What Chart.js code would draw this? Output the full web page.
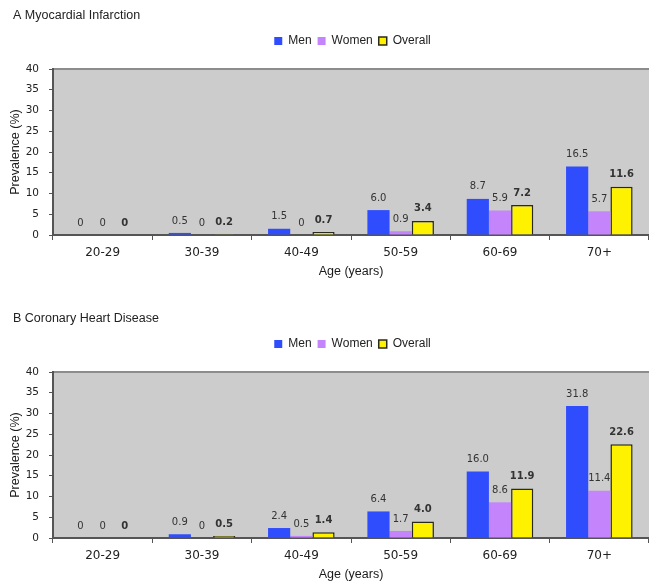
<!DOCTYPE html>
<html>
<head>
<meta charset="utf-8">
<script src="https://cdn.jsdelivr.net/npm/chart.js@4"></script>
<style>
  html, body { margin: 0; padding: 0; background: #fff; }
  #wrap { position: relative; width: 649px; height: 582px; overflow: hidden; }
  canvas { position: absolute; left: 0; }
  #chartA { top: 0; }
  #chartB { top: 303px; }
</style>
</head>
<body>
<div id="wrap">
  <canvas id="chartA" width="649" height="279"></canvas>
  <canvas id="chartB" width="649" height="279"></canvas>
</div>
<script>
// age groups on the x axis
const ageGroups = ['20-29', '30-39', '40-49', '50-59', '60-69', '70+'];

// A: myocardial infarction prevalence (%)
const miMen     = [0, 0.5, 1.5, 6.0, 8.7, 16.5];
const miWomen   = [0, 0,   0,   0.9, 5.9, 5.7];
const miOverall = [0, 0.2, 0.7, 3.4, 7.2, 11.6];

// B: coronary heart disease prevalence (%)
const chdMen     = [0, 0.9, 2.4, 6.4, 16.0, 31.8];
const chdWomen   = [0, 0,   0.5, 1.7, 8.6,  11.4];
const chdOverall = [0, 0.5, 1.4, 4.0, 11.9, 22.6];

const yMax = 40;
const yStep = 5;

// grey plot area with a darker top edge
const plotBg = {
    id: 'plotBg',
    beforeDraw(chart) {
        const { ctx, chartArea: a } = chart;
        ctx.save();
        ctx.fillStyle = '#cccccc';
        ctx.fillRect(a.left, a.top, a.right - a.left, a.bottom - a.top);
        ctx.strokeStyle = '#8c8c8c';
        ctx.lineWidth = 2;
        ctx.beginPath();
        ctx.moveTo(a.left, a.top);
        ctx.lineTo(a.right, a.top);
        ctx.stroke();
        ctx.restore();
    }
};

// numbers above the bars
const valueLabels = {
    id: 'valueLabels',
    afterDatasetsDraw(chart) {
        const ctx = chart.ctx;
        ctx.save();
        ctx.textAlign = 'center';
        ctx.textBaseline = 'middle';
        ctx.fillStyle = '#333';
        chart.data.datasets.forEach((ds, i) => {
            ctx.font = (ds.label === 'Overall' ? 'bold ' : '') + '10px "DejaVu Sans"';
            chart.getDatasetMeta(i).data.forEach((bar, j) => {
                const v = ds.data[j];
                ctx.fillText(v === 0 ? '0' : v.toFixed(1), bar.x, bar.y - 12);
            });
        });
        ctx.restore();
    }
};

// title and legend sit higher and a bit more to the right than chart.js puts them
const nudge = {
    id: 'nudge',
    afterLayout(chart) {
        const t = chart.titleBlock, l = chart.legend;
        t.left += 7; t.right += 7; t.top -= 12; t.bottom -= 12;
        l.left += 25; l.right += 25; l.top -= 12; l.bottom -= 12;
    }
};

const makeChart = (id, title, men, women, overall) => {
    const ctx = document.getElementById(id).getContext('2d');

    const data = {
        labels: ageGroups,
        datasets: [
            { label: 'Men', data: men, backgroundColor: '#2f4dfc', borderWidth: 0 },
            { label: 'Women', data: women, backgroundColor: '#c384fc', borderWidth: 0 },
            { label: 'Overall', data: overall, backgroundColor: '#fff200', borderColor: '#2a2a1a', borderWidth: 1.5 }
        ]
    };

    const axisFont = { family: 'Liberation Sans', size: 12.5 };

    const options = {
        responsive: false,
        animation: false,
        layout: { padding: { left: 6, right: 0, top: 20, bottom: 0 } },
        datasets: { bar: { categoryPercentage: 0.67, barPercentage: 1.0 } },
        plugins: {
            title: {
                display: true, text: title, align: 'start', color: '#222',
                font: { family: 'Liberation Sans', size: 12.5, weight: 'normal' },
                padding: { top: 0, bottom: 6 }
            },
            legend: {
                labels: {
                    boxWidth: 8, boxHeight: 8, padding: 6, color: '#222',
                    font: { family: 'Liberation Sans', size: 12 }
                }
            },
            tooltip: { enabled: false }
        },
        scales: {
            x: {
                afterFit: (s) => { s.height = 44; },
                grid: { drawOnChartArea: false, drawTicks: true, tickLength: 5, color: '#555' },
                border: { color: '#555', width: 2 },
                ticks: { color: '#222', font: { family: 'DejaVu Sans', size: 12 }, padding: 6 },
                title: { display: true, text: 'Age (years)', color: '#1a1a1a', font: axisFont, padding: { top: 0, bottom: 0 } }
            },
            y: {
                min: 0, max: yMax,
                afterFit: (s) => { s.width = 47; },
                grid: { drawOnChartArea: false, drawTicks: true, tickLength: 4, color: '#555' },
                border: { color: '#555', width: 2 },
                ticks: { stepSize: yStep, color: '#222', font: { family: 'DejaVu Sans', size: 10.5 }, padding: 10 },
                title: { display: true, text: 'Prevalence (%)', color: '#1a1a1a', font: axisFont, padding: { top: 2, bottom: 0 } }
            }
        }
    };

    new Chart(ctx, {
        type: 'bar',
        data: data,
        options: options,
        plugins: [plotBg, valueLabels, nudge]
    });
};

makeChart('chartA', 'A Myocardial Infarction', miMen, miWomen, miOverall);
makeChart('chartB', 'B Coronary Heart Disease', chdMen, chdWomen, chdOverall);
</script>
</body>
</html>
